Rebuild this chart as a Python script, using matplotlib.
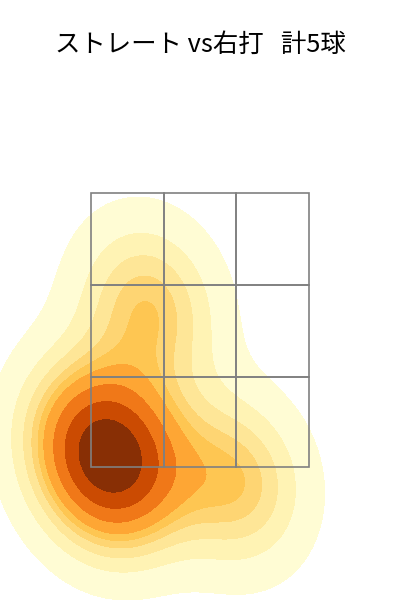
import seaborn as sns
from matplotlib import pyplot as plt
from matplotlib.patches import Rectangle

plt.rcParams['font.family'] = ['Noto Sans CJK JP', 'DejaVu Sans']

title = "ストレート vs右打   計5球"

# pitch locations, zone width = 3 columns, zone height = 3 rows
pitch_x = [-0.08, 0.25, 0.5, 1.98, 0.78]
pitch_y = [0.3, -0.08, 0.12, -0.16, 1.74]

zone_x = [0.0, 1.0, 2.0, 3.0]
zone_y = [0.0, 0.985, 1.99, 3.0]

fig = plt.figure(figsize=(4, 6), dpi=100)
ax = fig.add_axes([0, 0, 1, 1])

sns.kdeplot(x=pitch_x, y=pitch_y, fill=True, cmap="YlOrBr", levels=10, bw_adjust=1.06, thresh=0.05, ax=ax)

for i in range(3):
    for j in range(3):
        ax.add_patch(Rectangle((zone_x[i], zone_y[j]), zone_x[i + 1] - zone_x[i], zone_y[j + 1] - zone_y[j],
                               fill=False, edgecolor="gray", linewidth=1.2))

# 218px wide zone, 274px tall zone
ax.set_xlim((0 - 91) / 72.7, (400 - 91) / 72.7)
ax.set_ylim((467 - 600) / 91.3, (467 - 0) / 91.3)
ax.axis("off")
fig.text(0.5, 0.925, title, ha="center", va="center", fontsize=18.3)

plt.savefig("out.png", dpi=100)
